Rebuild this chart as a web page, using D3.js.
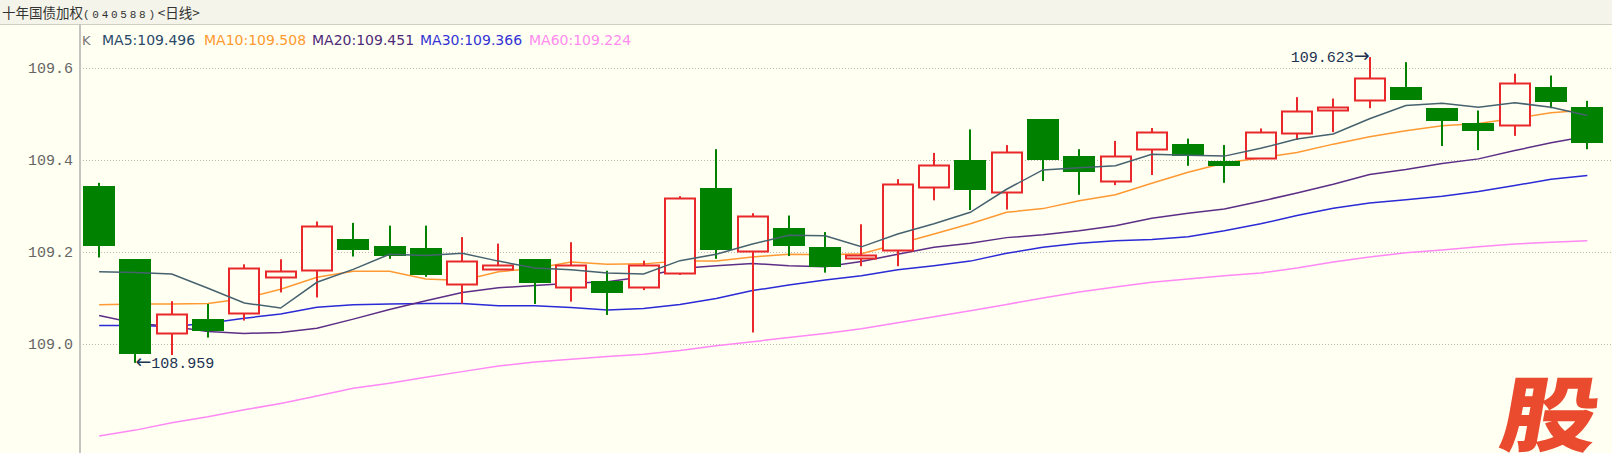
<!DOCTYPE html>
<html><head><meta charset="utf-8">
<script src="https://cdn.jsdelivr.net/npm/d3@7"></script>
<style>html,body{margin:0;padding:0;background:#fff;}svg{display:block}</style>
</head><body>
<svg id="c" width="1612" height="471"></svg>
<script>
// ---- data ----
const days = d3.range(42);
const opens  = [109.344,109.184,109.022,109.054,109.064,109.143,109.158,109.229,109.212,109.209,109.127,109.161,109.184,109.121,109.137,109.121,109.150,109.339,109.200,109.251,109.211,109.184,109.201,109.338,109.400,109.329,109.488,109.409,109.352,109.420,109.434,109.398,109.402,109.456,109.507,109.526,109.559,109.512,109.480,109.473,109.558,109.515];
const highs  = [109.350,109.184,109.093,109.087,109.173,109.184,109.266,109.263,109.257,109.257,109.232,109.218,109.184,109.221,109.159,109.181,109.321,109.423,109.284,109.279,109.243,109.260,109.358,109.415,109.466,109.432,109.488,109.423,109.441,109.469,109.446,109.432,109.468,109.536,109.533,109.623,109.612,109.512,109.507,109.587,109.583,109.528];
const lows   = [109.188,108.959,108.976,109.014,109.051,109.112,109.101,109.190,109.185,109.146,109.088,109.161,109.087,109.092,109.063,109.117,109.150,109.185,109.025,109.191,109.155,109.169,109.169,109.312,109.291,109.292,109.354,109.324,109.345,109.367,109.387,109.350,109.402,109.443,109.460,109.512,109.531,109.430,109.421,109.452,109.512,109.423];
const closes = [109.213,108.978,109.065,109.027,109.164,109.158,109.256,109.205,109.191,109.151,109.180,109.172,109.132,109.172,109.112,109.172,109.316,109.204,109.279,109.211,109.167,109.193,109.347,109.389,109.334,109.418,109.400,109.374,109.408,109.460,109.408,109.388,109.460,109.507,109.515,109.577,109.531,109.484,109.462,109.566,109.526,109.436];
const ma5  = [109.157,109.155,109.152,109.121,109.089,109.078,109.134,109.162,109.195,109.192,109.197,109.180,109.165,109.161,109.154,109.152,109.181,109.195,109.217,109.236,109.235,109.211,109.239,109.261,109.286,109.336,109.378,109.383,109.387,109.412,109.410,109.408,109.425,109.445,109.456,109.489,109.518,109.523,109.514,109.524,109.514,109.496];
const ma10 = [109.085,109.087,109.087,109.088,109.099,109.119,109.145,109.158,109.158,109.141,109.138,109.157,109.164,109.178,109.173,109.174,109.180,109.180,109.189,109.195,109.194,109.196,109.217,109.239,109.261,109.286,109.294,109.311,109.324,109.349,109.373,109.393,109.404,109.416,109.434,109.450,109.463,109.474,109.479,109.490,109.502,109.508];
const ma20 = [109.062,109.045,109.038,109.027,109.023,109.025,109.034,109.054,109.075,109.094,109.112,109.122,109.127,109.132,109.135,109.146,109.164,109.170,109.175,109.170,109.168,109.179,109.195,109.210,109.219,109.231,109.237,109.246,109.257,109.273,109.284,109.293,109.310,109.328,109.347,109.368,109.379,109.392,109.402,109.420,109.437,109.451];
const ma30 = [109.040,109.040,109.038,109.045,109.056,109.065,109.080,109.085,109.087,109.088,109.088,109.083,109.083,109.079,109.074,109.077,109.086,109.099,109.116,109.128,109.139,109.148,109.161,109.170,109.180,109.197,109.210,109.219,109.224,109.227,109.233,109.246,109.261,109.279,109.295,109.306,109.313,109.321,109.331,109.344,109.358,109.366];
const ma60 = [108.800,108.813,108.829,108.842,108.857,108.871,108.887,108.904,108.915,108.928,108.940,108.952,108.961,108.967,108.973,108.978,108.986,108.996,109.005,109.014,109.023,109.033,109.046,109.059,109.072,109.086,109.100,109.113,109.124,109.134,109.141,109.148,109.154,109.165,109.178,109.189,109.198,109.204,109.211,109.217,109.221,109.224];
const yTicks = [109.0, 109.2, 109.4, 109.6];
const maNames = ["MA5","MA10","MA20","MA30","MA60"];
const maLast  = ["109.496","109.508","109.451","109.366","109.224"];
const titleMain = "十年国债加权", titleCode = "(040588)", titlePeriod = "<日线>";
const maxLabel = "109.623", minLabel = "108.959";

// ---- layout ----
const W = 1612, H = 471, plotTop = 24, plotBottom = 453, axisX = 80;
const svg = d3.select("#c");
const x = d3.scaleBand().domain(days).range([81, 1605.5]).paddingInner(0.12).paddingOuter(0.06);
const y = d3.scaleLinear().domain([109.0, 109.6]).range([344, 67.7]);
const cx = i => x(i) + x.bandwidth() / 2;

svg.append("rect").attr("x",0).attr("y",0).attr("width",W).attr("height",H).attr("fill","#ffffff");
svg.append("rect").attr("x",0).attr("y",0).attr("width",W).attr("height",plotBottom).attr("fill","#fffff2");
svg.append("rect").attr("x",0).attr("y",0).attr("width",W).attr("height",plotTop).attr("fill","#f4f4ea");
svg.append("line").attr("x1",0).attr("x2",W).attr("y1",plotTop+0.5).attr("y2",plotTop+0.5).attr("stroke","#cfcfc6");

const defs = svg.append("defs");
defs.append("clipPath").attr("id","plotclip").append("rect").attr("x",axisX).attr("y",plotTop+1).attr("width",W-axisX).attr("height",plotBottom-plotTop-1);

// watermark
svg.append("text").text("股")
  .attr("transform","translate(1497,445) skewX(-10) scale(1.18,1)")
  .attr("font-family","Noto Sans CJK SC").attr("font-weight",900).attr("font-size",82)
  .attr("fill","#ea4a2e");

// grid
const grid = svg.append("g").attr("transform",`translate(${axisX},0)`)
  .call(d3.axisRight(y).tickValues(yTicks).tickSize(W-axisX).tickFormat(""));
grid.select(".domain").remove();
grid.selectAll("line").attr("stroke","#b9b9b0").attr("stroke-dasharray","1,2").attr("shape-rendering","crispEdges");

// y axis labels
const ax = svg.append("g").attr("transform",`translate(${axisX},0)`)
  .call(d3.axisLeft(y).tickValues(yTicks).tickSize(0).tickPadding(7).tickFormat(d3.format(".1f")));
ax.select(".domain").remove();
ax.selectAll("text").attr("font-family","Liberation Mono").attr("font-size",15).attr("fill","#666");
svg.append("line").attr("x1",axisX).attr("x2",axisX).attr("y1",plotTop).attr("y2",plotBottom).attr("stroke","#c4c4c0").attr("stroke-width",2);

// MA lines
const maColors = {MA5:"#46626f", MA10:"#ff9933", MA20:"#5c2e86", MA30:"#2a2ad6", MA60:"#ff88f4"};
const seriesByName = {MA5:ma5, MA10:ma10, MA20:ma20, MA30:ma30, MA60:ma60};
const line = d3.line().x((d,i)=>cx(i)).y(d=>y(d));

const g = svg.append("g").attr("clip-path","url(#plotclip)");
const up = days.filter(i => closes[i] >= opens[i]);
const down = days.filter(i => closes[i] < opens[i]);
const bw = Math.round(x.bandwidth());
const px = i => Math.round(x(i));
const wx = i => Math.round(cx(i));

["MA60","MA30","MA20","MA10"].forEach(n=>{
  g.append("path").datum(seriesByName[n]).attr("d",line).attr("fill","none").attr("stroke",maColors[n]).attr("stroke-width",1.5);
});

// down (green)
g.selectAll(".dw").data(down).join("rect")
  .attr("x", i => wx(i)-1).attr("width",2)
  .attr("y", i => y(highs[i])).attr("height", i => y(lows[i]) - y(highs[i]))
  .attr("fill","#008200");
g.selectAll(".db").data(down).join("rect")
  .attr("x", i => px(i)).attr("width", bw)
  .attr("y", i => Math.round(y(opens[i]))).attr("height", i => Math.max(2, Math.round(y(closes[i]) - y(opens[i]))))
  .attr("fill","#008200").attr("shape-rendering","crispEdges");
// up (red)
g.selectAll(".uw").data(up).join("rect")
  .attr("x", i => wx(i)-1).attr("width",2)
  .attr("y", i => y(highs[i])).attr("height", i => y(lows[i]) - y(highs[i]))
  .attr("fill","#e8282a");
g.selectAll(".ub").data(up).join("rect")
  .attr("x", i => px(i)+1).attr("width", bw-2)
  .attr("y", i => Math.round(y(closes[i]))+0.5).attr("height", i => Math.max(2, Math.round(y(opens[i]) - y(closes[i]))-1))
  .attr("fill","#fffff2").attr("stroke","#e8282a").attr("stroke-width",2);

g.append("path").datum(ma5).attr("d",line).attr("fill","none").attr("stroke",maColors.MA5).attr("stroke-width",1.5);

// max / min annotations
const iMax = d3.maxIndex(highs), iMin = d3.minIndex(lows);
const tMax = svg.append("text").attr("x", cx(iMax)).attr("y", y(highs[iMax])).attr("dy","0.35em")
  .attr("text-anchor","end").attr("font-family","Liberation Mono").attr("font-size",15).attr("fill","#1d3352");
tMax.append("tspan").text(maxLabel);
tMax.append("tspan").text("→").attr("font-family","DejaVu Sans").attr("font-size",19);
const tMin = svg.append("text").attr("x", cx(iMin)).attr("y", y(lows[iMin])).attr("dy","0.35em")
  .attr("font-family","Liberation Mono").attr("font-size",15).attr("fill","#1d3352");
tMin.append("tspan").text("←").attr("font-family","DejaVu Sans").attr("font-size",19);
tMin.append("tspan").text(minLabel);

// legend
const legY = 40;
svg.append("text").text("K").attr("x",82).attr("y",legY).attr("dy","0.35em")
  .attr("font-family","DejaVu Sans").attr("font-size",13).attr("fill","#777");
const legX = [102, 204, 312, 420, 529];
const legColors = {MA5:"#2a4a6a", MA10:"#ff9a2e", MA20:"#4e2a78", MA30:"#3434d4", MA60:"#ff8cee"};
maNames.forEach((n,k)=>{
  svg.append("text").text(n + ":" + maLast[k]).attr("x",legX[k]).attr("y",legY).attr("dy","0.35em")
    .attr("font-family","DejaVu Sans").attr("font-size",14).attr("fill",legColors[n]);
});

// title
const t = svg.append("text").attr("x",2).attr("y",12).attr("dy","0.35em").attr("fill","#333").attr("font-family","Noto Sans CJK SC");
t.append("tspan").text(titleMain).attr("font-size",13.5);
t.append("tspan").text(titleCode).attr("font-size",11).attr("font-family","Liberation Mono").attr("textLength",72).attr("lengthAdjust","spacing");
t.append("tspan").text(titlePeriod).attr("font-size",13.5);
</script></body></html>
